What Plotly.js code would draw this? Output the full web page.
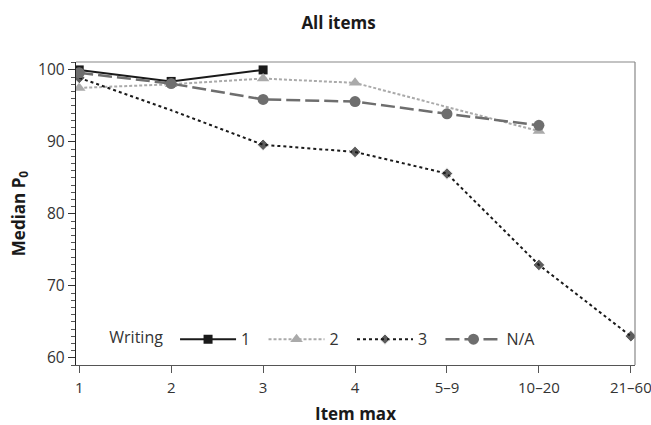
<!DOCTYPE html>
<html>
<head>
<meta charset="utf-8">
<script src="https://cdn.plot.ly/plotly-3.0.1.min.js"></script>
<style>
  html, body { margin: 0; padding: 0; background: #ffffff; }
  #chart { width: 651px; height: 425px; }
</style>
</head>
<body>
<div id="chart"></div>
<script>
// Item-max categories along the x axis
const itemMax = ['1', '2', '3', '4', '5–9', '10–20', '21–60'];

// Median P0 by writing group
const writing1 = [100.0, 98.4, 100.0];
const writing2 = [97.5, 98.0, 98.8, 98.2, null, 91.5];
const writing3 = [98.9, 94.4, 89.6, 88.6, 85.6, 72.9, 63.0];
const writingNA = [99.6, 98.1, 95.9, 95.6, 93.9, 92.3];

const groupNames = ['1', '2', '3', 'N/A'];

const FONT = '"Open Sans", "DejaVu Sans", sans-serif';
// a little trailing room after each legend label
const PAD = '\u00a0\u00a0';

const traces = [
  {
    name: groupNames[0] + PAD,
    x: itemMax.slice(0, writing1.length),
    y: writing1,
    mode: 'lines+markers',
    line: { color: '#1a1a1a', width: 2 },
    marker: { symbol: 'square', size: 9, color: '#1a1a1a' }
  },
  {
    name: groupNames[1] + PAD,
    x: itemMax.slice(0, writing2.length),
    y: writing2,
    mode: 'lines+markers',
    connectgaps: true,
    line: { color: '#aaaaaa', width: 2, dash: '3px,2px' },
    marker: { symbol: 'triangle-up', size: 11, color: '#aaaaaa' }
  },
  {
    name: groupNames[2] + PAD,
    x: itemMax.slice(0, writing3.length),
    y: writing3,
    mode: 'lines+markers',
    line: { color: '#1a1a1a', width: 2, dash: '3px,3px' },
    marker: { symbol: 'diamond', size: [9, 3, 9, 9, 9, 9, 9], color: '#1a1a1a' }
  },
  {
    name: groupNames[3],
    x: itemMax.slice(0, writingNA.length),
    y: writingNA,
    mode: 'lines+markers',
    line: { color: '#6e6e6e', width: 2.5, dash: '14px,5px' },
    marker: { symbol: 'circle', size: 11, color: '#6e6e6e' }
  }
];

const layout = {
  width: 651,
  height: 425,
  margin: { l: 76, r: 16, t: 62, b: 60 },
  paper_bgcolor: '#ffffff',
  plot_bgcolor: '#ffffff',
  font: { family: FONT, size: 16, color: '#333333' },
  title: {
    text: '<b>All items</b>',
    font: { family: FONT, size: 17, color: '#1a1a1a' },
    x: 0.52, xanchor: 'center',
    y: 0.945, yanchor: 'middle'
  },
  xaxis: {
    type: 'category',
    categoryorder: 'array',
    categoryarray: itemMax,
    range: [-0.035, 6.045],
    showgrid: false,
    zeroline: false,
    showline: true,
    linecolor: '#555555',
    linewidth: 1.2,
    ticks: 'outside',
    ticklen: 7,
    tickcolor: '#555555',
    ticklabelstandoff: 2,
    tickfont: { family: FONT, size: 15, color: '#333333' },
    title: {
      text: '<b>Item max</b>',
      font: { family: FONT, size: 17, color: '#1a1a1a' },
      standoff: 19
    },
    automargin: false
  },
  yaxis: {
    range: [59.0, 101.1],
    tickvals: [60, 70, 80, 90, 100],
    showgrid: false,
    zeroline: false,
    showline: true,
    linecolor: '#222222',
    linewidth: 1.2,
    ticks: 'outside',
    ticklen: 7,
    tickcolor: '#333333',
    tickfont: { family: FONT, size: 15.5, color: '#333333' },
    minor: { dtick: 1, ticks: 'outside', ticklen: 4, tickcolor: '#555555', showgrid: false },
    title: {
      text: '<b>Median P<sub>0</sub></b>',
      font: { family: FONT, size: 17, color: '#1a1a1a' },
      standoff: 8
    },
    automargin: false
  },
  shapes: [
    { type: 'line', xref: 'paper', yref: 'paper', x0: 0, x1: 1, y0: 1, y1: 1,
      line: { color: '#888888', width: 1.2 } },
    { type: 'line', xref: 'paper', yref: 'paper', x0: 1, x1: 1, y0: 0, y1: 1,
      line: { color: '#888888', width: 1.2 } }
  ],
  showlegend: true,
  legend: {
    orientation: 'h',
    x: 0.056, xanchor: 'left',
    y: 0.085, yanchor: 'middle',
    bgcolor: 'rgba(0,0,0,0)',
    font: { family: FONT, size: 16, color: '#333333' },
    title: { text: 'Writing ', side: 'left', font: { family: FONT, size: 16, color: '#333333' } },
    itemwidth: 56,
    traceorder: 'normal'
  }
};

Plotly.newPlot('chart', traces, layout, { displayModeBar: false, staticPlot: true });
</script>
</body>
</html>
